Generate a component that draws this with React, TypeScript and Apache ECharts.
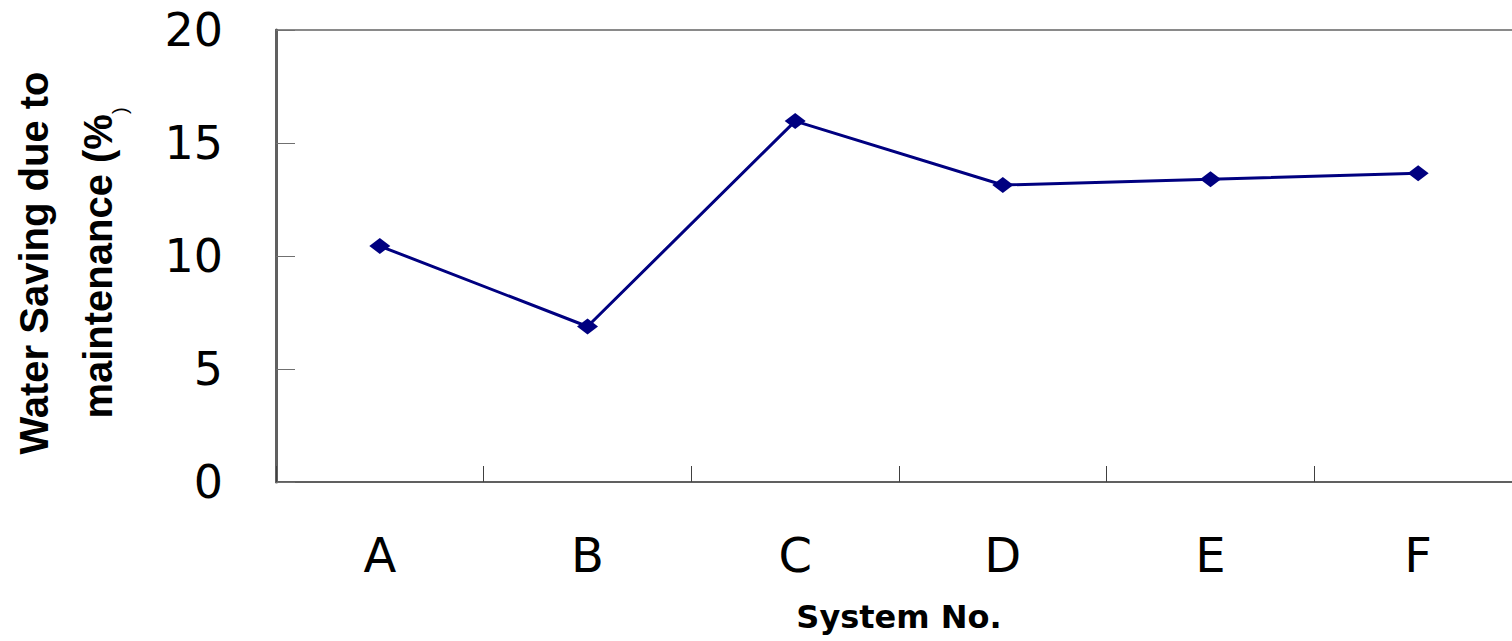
import React, { useEffect, useRef } from "react";
import * as echarts from "echarts";

const categories = ["A", "B", "C", "D", "E", "F"];
const savings = [10.44, 6.88, 15.97, 13.14, 13.4, 13.66];
const yTicks = { min: 0, max: 20, interval: 5 };

export default function App() {
  const ref = useRef<HTMLDivElement>(null);
  useEffect(() => {
    if (!ref.current) return;
    const chart = echarts.init(ref.current, null, { renderer: "svg" });
    chart.setOption({
      animation: false,
      backgroundColor: "#ffffff",
      grid: {
        left: 276,
        top: 30,
        width: 1246,
        height: 452,
        show: true,
        borderColor: "#8a8a8a",
        borderWidth: 2,
        containLabel: false,
        outerBoundsMode: "none",
      },
      xAxis: {
        type: "category",
        data: categories,
        boundaryGap: true,
        axisLine: { show: true, lineStyle: { color: "#606060", width: 2 } },
        axisTick: { show: true, inside: true, length: 16, lineStyle: { color: "#404040", width: 1 } },
        axisLabel: {
          margin: 49,
          fontFamily: "DejaVu Sans",
          fontSize: 48,
          color: "#000",
        },
        splitLine: { show: false },
        name: "System No.",
        nameLocation: "middle",
        nameGap: 119,
        nameTextStyle: {
          fontFamily: "DejaVu Sans",
          fontWeight: "bold",
          fontSize: 32,
          color: "#000",
        },
      },
      yAxis: {
        type: "value",
        min: yTicks.min,
        max: yTicks.max,
        interval: yTicks.interval,
        axisLine: { show: true, lineStyle: { color: "#606060", width: 3 } },
        axisTick: { show: true, inside: true, length: 19, lineStyle: { color: "#707070", width: 1 } },
        axisLabel: {
          margin: 53,
          fontFamily: "DejaVu Sans",
          fontSize: 46,
          color: "#000",
        },
        splitLine: { show: false },
        name: "Water Saving due to\nmaintenance (%{s|)}",
        nameLocation: "middle",
        nameGap: 146,
        nameTextStyle: {
          fontFamily: "Liberation Sans",
          fontWeight: "bold",
          fontSize: 40,
          lineHeight: 64,
          color: "#000",
          align: "center",
          padding: [0, 14, 0, 0],
          rich: {
            s: {
              fontFamily: "Liberation Sans",
              fontWeight: "normal",
              fontSize: 20,
              lineHeight: 64,
              color: "#000",
              verticalAlign: "bottom",
            },
          },
        },
      },
      series: [
        {
          type: "line",
          data: savings,
          symbol: "diamond",
          symbolSize: [21, 16],
          lineStyle: { color: "#000080", width: 3 },
          itemStyle: { color: "#000080" },
        },
      ],
    });
    return () => chart.dispose();
  }, []);
  return (
    <div
      style={{
        position: "absolute",
        left: 0,
        top: 0,
        width: 1512,
        height: 641,
        overflow: "hidden",
        background: "#fff",
      }}
    >
      <div ref={ref} style={{ width: 1540, height: 641 }} />
    </div>
  );
}
